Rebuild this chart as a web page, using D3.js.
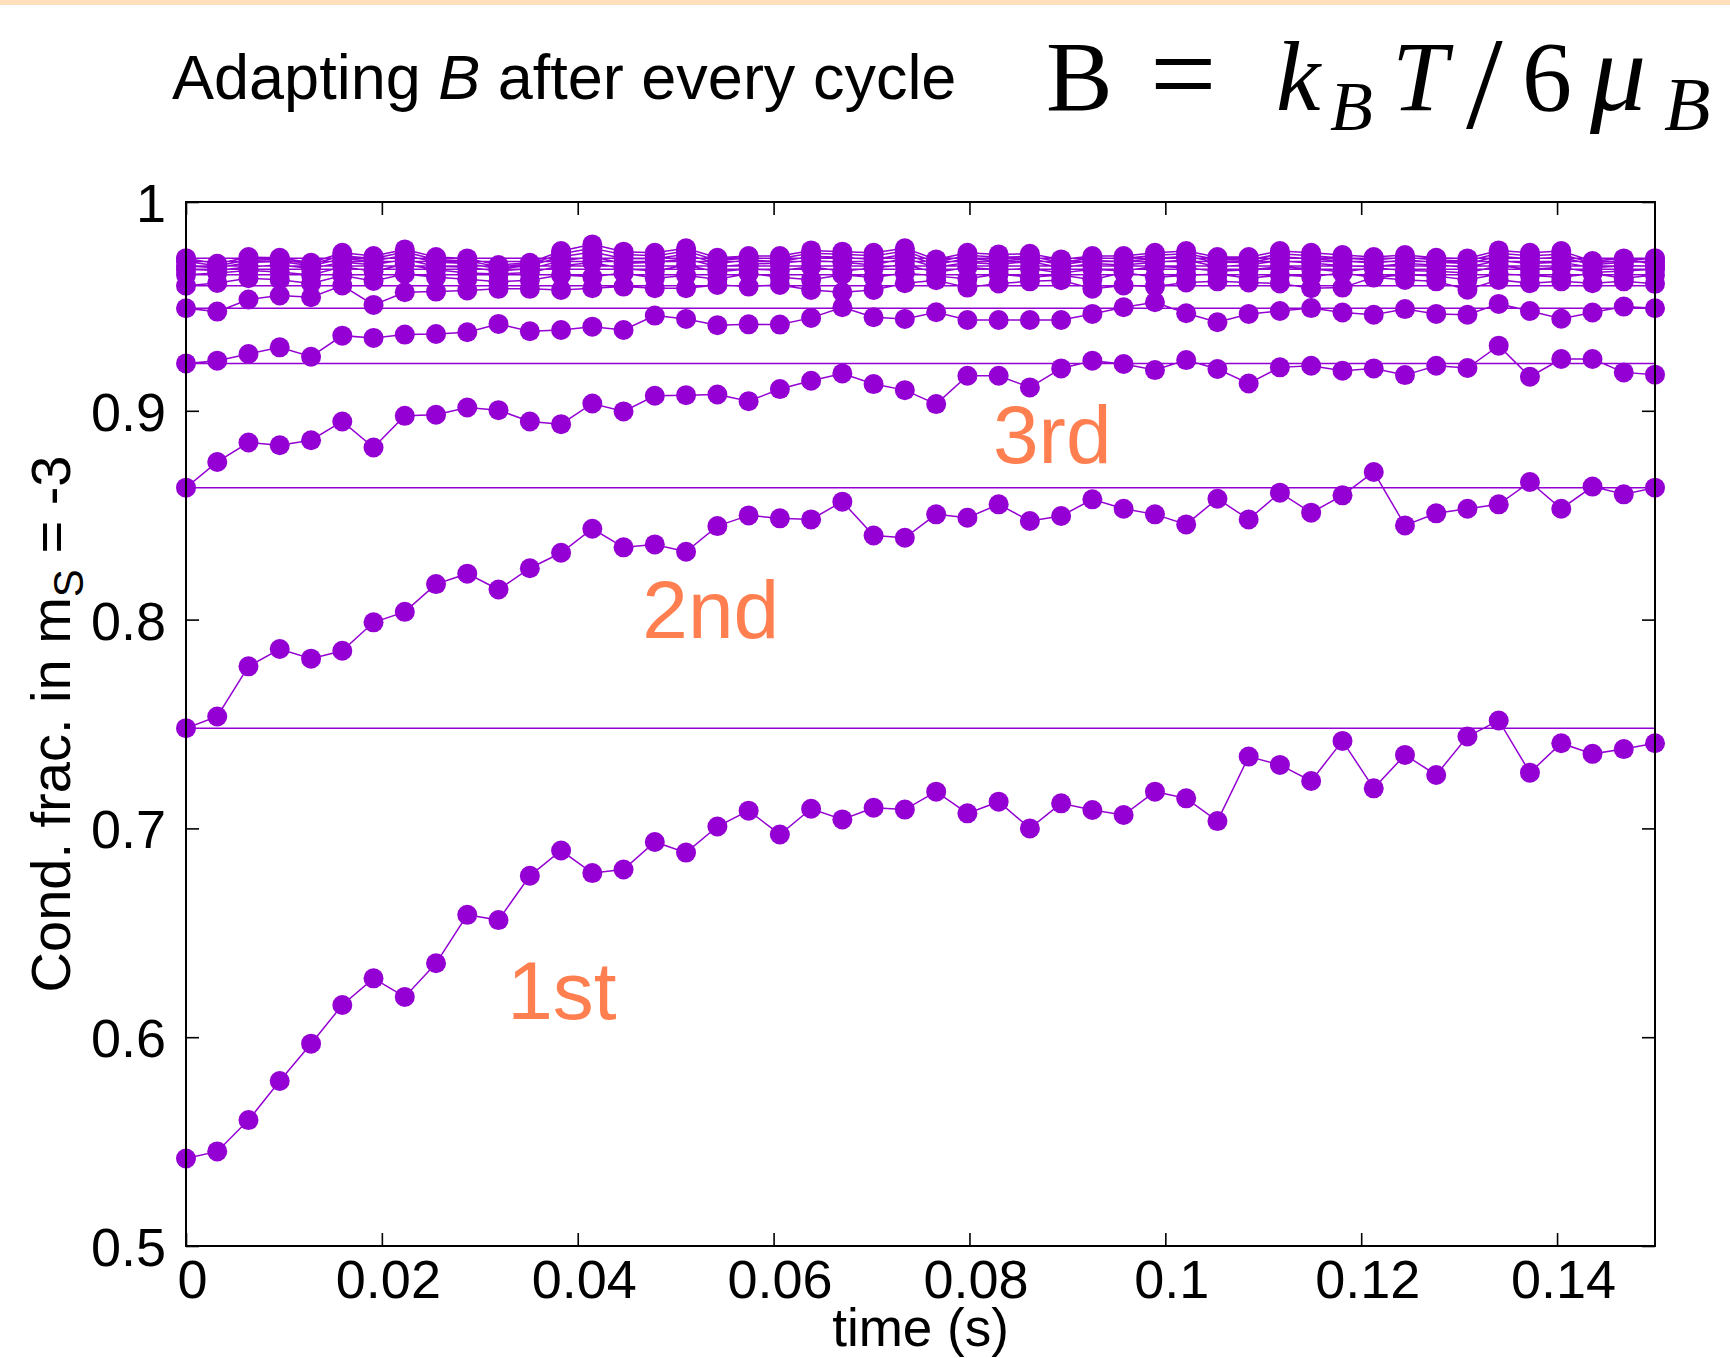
<!DOCTYPE html>
<html>
<head>
<meta charset="utf-8">
<script src="https://cdn.jsdelivr.net/npm/d3@7"></script>
<style>
  body { margin: 0; background: #fff; }
</style>
</head>
<body>
<div id="chart"></div>
<script>
// sample times of one cycle (s)
const times = [0, 0.00319, 0.00638, 0.00957, 0.01277, 0.01596, 0.01915, 0.02234, 0.02553, 0.02872,
  0.03191, 0.03511, 0.03830, 0.04149, 0.04468, 0.04787, 0.05106, 0.05426, 0.05745, 0.06064,
  0.06383, 0.06702, 0.07021, 0.07340, 0.07660, 0.07979, 0.08298, 0.08617, 0.08936, 0.09255,
  0.09574, 0.09894, 0.10213, 0.10532, 0.10851, 0.11170, 0.11489, 0.11809, 0.12128, 0.12447,
  0.12766, 0.13085, 0.13404, 0.13723, 0.14043, 0.14362, 0.14681, 0.15000];
// time of the end-of-cycle state (just past the right edge)
const cycleEnd = 0.15319;

// condensate fraction in m_S = -3, one array per cycle
const cycle1 = [0.5419, 0.5453, 0.5603, 0.5790, 0.5969, 0.6154, 0.6282, 0.6193, 0.6354, 0.6586,
  0.6561, 0.6773, 0.6894, 0.6786, 0.6803, 0.6935, 0.6884, 0.7009, 0.7085, 0.6971,
  0.7094, 0.7043, 0.7099, 0.7090, 0.7176, 0.7072, 0.7128, 0.7000, 0.7120, 0.7088,
  0.7064, 0.7176, 0.7144, 0.7035, 0.7344, 0.7304, 0.7227, 0.7419, 0.7192, 0.7352,
  0.7256, 0.7440, 0.7517, 0.7267, 0.7408, 0.7357, 0.7380, 0.7408];
const cycle2 = [0.7480, 0.7536, 0.7776, 0.7859, 0.7813, 0.7851, 0.7987, 0.8037, 0.8170, 0.8220,
  0.8144, 0.8246, 0.8320, 0.8435, 0.8346, 0.8360, 0.8325, 0.8448, 0.8499, 0.8485,
  0.8480, 0.8565, 0.8403, 0.8392, 0.8504, 0.8488, 0.8552, 0.8472, 0.8496, 0.8576,
  0.8531, 0.8504, 0.8456, 0.8579, 0.8480, 0.8608, 0.8512, 0.8595, 0.8707, 0.8451,
  0.8509, 0.8531, 0.8552, 0.8659, 0.8531, 0.8637, 0.8600, 0.8632];
const cycle3 = [0.8632, 0.8755, 0.8848, 0.8835, 0.8859, 0.8949, 0.8824, 0.8976, 0.8981, 0.9016,
  0.9003, 0.8949, 0.8936, 0.9035, 0.8997, 0.9072, 0.9075, 0.9078, 0.9046, 0.9104,
  0.9144, 0.9179, 0.9128, 0.9099, 0.9032, 0.9168, 0.9168, 0.9112, 0.9203, 0.9240,
  0.9224, 0.9195, 0.9243, 0.9200, 0.9131, 0.9208, 0.9216, 0.9192, 0.9203, 0.9171,
  0.9216, 0.9205, 0.9312, 0.9163, 0.9248, 0.9248, 0.9184, 0.9173];
const cycle4 = [0.9227, 0.9240, 0.9272, 0.9304, 0.9259, 0.9360, 0.9349, 0.9365, 0.9368, 0.9376,
  0.9416, 0.9381, 0.9387, 0.9403, 0.9387, 0.9456, 0.9440, 0.9410, 0.9414, 0.9413,
  0.9445, 0.9496, 0.9448, 0.9440, 0.9472, 0.9435, 0.9435, 0.9435, 0.9435, 0.9464,
  0.9496, 0.9520, 0.9467, 0.9424, 0.9464, 0.9478, 0.9492, 0.9471, 0.9460, 0.9487,
  0.9464, 0.9460, 0.9512, 0.9478, 0.9441, 0.9471, 0.9499, 0.9491];
const cycle5 = [0.9491, 0.9475, 0.9533, 0.9552, 0.9544, 0.9600, 0.9507, 0.9568, 0.9571, 0.9576,
  0.9584, 0.9584, 0.9579, 0.9587, 0.9595, 0.9587, 0.9587, 0.9603, 0.9595, 0.9603,
  0.9579, 0.9568, 0.9579, 0.9611, 0.9625, 0.9590, 0.9610, 0.9620, 0.9625, 0.9585,
  0.9600, 0.9595, 0.9615, 0.9620, 0.9615, 0.9610, 0.9587, 0.9590, 0.9640, 0.9627,
  0.9620, 0.9580, 0.9627, 0.9611, 0.9620, 0.9611, 0.9620, 0.9608];
const cycle6 = [0.9599, 0.9612, 0.9635, 0.9628, 0.9610, 0.9648, 0.9622, 0.9655, 0.9640, 0.9630,
  0.9618, 0.9625, 0.9650, 0.9642, 0.9660, 0.9635, 0.9648, 0.9630, 0.9658, 0.9640,
  0.9628, 0.9652, 0.9638, 0.9660, 0.9645, 0.9632, 0.9655, 0.9640, 0.9650, 0.9628,
  0.9662, 0.9640, 0.9648, 0.9655, 0.9635, 0.9650, 0.9642, 0.9660, 0.9638, 0.9652,
  0.9645, 0.9628, 0.9655, 0.9648, 0.9640, 0.9658, 0.9635, 0.9650];
const cycle7 = [0.9652, 0.9660, 0.9672, 0.9665, 0.9650, 0.9690, 0.9668, 0.9702, 0.9675, 0.9660,
  0.9655, 0.9662, 0.9695, 0.9710, 0.9680, 0.9670, 0.9698, 0.9665, 0.9680, 0.9672,
  0.9690, 0.9668, 0.9685, 0.9700, 0.9662, 0.9688, 0.9675, 0.9682, 0.9660, 0.9678,
  0.9670, 0.9692, 0.9685, 0.9668, 0.9675, 0.9690, 0.9680, 0.9665, 0.9685, 0.9672,
  0.9668, 0.9660, 0.9695, 0.9678, 0.9688, 0.9662, 0.9670, 0.9678];
const cycle8 = [0.9678, 0.9672, 0.9690, 0.9698, 0.9682, 0.9712, 0.9700, 0.9725, 0.9692, 0.9688,
  0.9670, 0.9680, 0.9718, 0.9738, 0.9705, 0.9712, 0.9728, 0.9690, 0.9702, 0.9708,
  0.9720, 0.9712, 0.9698, 0.9730, 0.9688, 0.9710, 0.9702, 0.9715, 0.9685, 0.9705,
  0.9698, 0.9712, 0.9722, 0.9690, 0.9700, 0.9718, 0.9708, 0.9695, 0.9690, 0.9705,
  0.9698, 0.9688, 0.9720, 0.9705, 0.9712, 0.9685, 0.9695, 0.9694];
const cycle9 = [0.9694, 0.9685, 0.9710, 0.9715, 0.9695, 0.9728, 0.9718, 0.9745, 0.9712, 0.9705,
  0.9680, 0.9695, 0.9738, 0.9760, 0.9730, 0.9728, 0.9750, 0.9705, 0.9722, 0.9715,
  0.9740, 0.9735, 0.9725, 0.9750, 0.9700, 0.9730, 0.9718, 0.9728, 0.9700, 0.9720,
  0.9715, 0.9730, 0.9740, 0.9712, 0.9710, 0.9738, 0.9728, 0.9718, 0.9708, 0.9722,
  0.9712, 0.9705, 0.9740, 0.9728, 0.9735, 0.9700, 0.9712, 0.9715];
const cycle10 = [0.9715, 0.9695, 0.9722, 0.9725, 0.9702, 0.9742, 0.9730, 0.9760, 0.9725, 0.9718,
  0.9690, 0.9702, 0.9752, 0.9778, 0.9748, 0.9742, 0.9765, 0.9720, 0.9732, 0.9730,
  0.9755, 0.9750, 0.9742, 0.9765, 0.9712, 0.9745, 0.9735, 0.9740, 0.9712, 0.9732,
  0.9730, 0.9745, 0.9752, 0.9725, 0.9722, 0.9752, 0.9742, 0.9732, 0.9722, 0.9735,
  0.9722, 0.9718, 0.9755, 0.9742, 0.9750, 0.9708, 0.9720, 0.9731];
const cycle11 = [0.9731, 0.9704, 0.9736, 0.9733, 0.9709, 0.9757, 0.9741, 0.9773, 0.9736, 0.9730,
  0.9698, 0.9709, 0.9765, 0.9797, 0.9762, 0.9757, 0.9778, 0.9733, 0.9741, 0.9741,
  0.9768, 0.9762, 0.9757, 0.9778, 0.9725, 0.9757, 0.9749, 0.9752, 0.9725, 0.9741,
  0.9741, 0.9757, 0.9765, 0.9736, 0.9736, 0.9765, 0.9757, 0.9746, 0.9736, 0.9746,
  0.9733, 0.9730, 0.9768, 0.9757, 0.9765, 0.9717, 0.9730, 0.9698];

const cycles = [cycle1, cycle2, cycle3, cycle4, cycle5, cycle6, cycle7, cycle8, cycle9, cycle10, cycle11];

// axes
const xTicks = [0, 0.02, 0.04, 0.06, 0.08, 0.1, 0.12, 0.14];
const xTickLabels = ["0", "0.02", "0.04", "0.06", "0.08", "0.1", "0.12", "0.14"];
const yTicks = [0.5, 0.6, 0.7, 0.8, 0.9, 1];
const yTickLabels = ["0.5", "0.6", "0.7", "0.8", "0.9", "1"];

// cycle annotations (time, fraction of the text's left baseline)
const cycleLabels = ["1st", "2nd", "3rd"];
const cycleLabelPos = [[0.0328, 0.6085], [0.0466, 0.7912], [0.0824, 0.8750]];

const width = 1730, height = 1358;
const plotLeft = 186, plotRight = 1655, plotTop = 202, plotBottom = 1246;
const purple = "#9400d3";
const font = "'Liberation Sans', Arial, Helvetica, sans-serif";

const x = d3.scaleLinear().domain([0, 0.15]).range([plotLeft, plotRight]);
const y = d3.scaleLinear().domain([0.5, 1]).range([plotBottom, plotTop]);

const svg = d3.select("#chart").append("svg")
    .attr("width", width)
    .attr("height", height)
    .style("display", "block")
    .style("font-family", font);

svg.append("rect").attr("width", width).attr("height", height).attr("fill", "#fff");
svg.append("rect").attr("width", width).attr("height", 5).attr("fill", "#fde0bb");

svg.append("defs").append("clipPath").attr("id", "plot")
  .append("rect")
    .attr("x", plotLeft).attr("y", plotTop)
    .attr("width", plotRight - plotLeft).attr("height", plotBottom - plotTop);

// one continuous trace: each cycle, then its end state just off the right edge
const trace = [];
cycles.forEach((c, k) => {
  c.forEach((v, i) => trace.push([times[i], v]));
  if (k < cycles.length - 1) trace.push([cycleEnd, cycles[k + 1][0]]);
});

svg.append("path")
    .attr("clip-path", "url(#plot)")
    .attr("fill", "none")
    .attr("stroke", purple)
    .attr("stroke-width", 1.5)
    .attr("d", d3.line().x(d => x(d[0])).y(d => y(d[1]))(trace));

const dots = [];
cycles.forEach(c => c.forEach((v, i) => dots.push([times[i], v])));

svg.append("g")
    .attr("fill", purple)
  .selectAll("circle")
  .data(dots)
  .join("circle")
    .attr("cx", d => x(d[0]))
    .attr("cy", d => y(d[1]))
    .attr("r", 10);

// tick marks on all four sides, pointing inwards
const tick = 13;
function styleAxis(g) {
  g.select(".domain").remove();
  g.selectAll(".tick line").attr("stroke", "#000").attr("stroke-width", 1.6);
  g.selectAll("text").attr("fill", "#000").style("font-family", font).style("font-size", "54px");
}

svg.append("g")
    .attr("transform", `translate(0,${plotBottom})`)
    .call(d3.axisBottom(x).tickValues(xTicks).tickFormat((d, i) => xTickLabels[i]).tickSize(-tick).tickPadding(0))
    .call(styleAxis)
    .call(g => g.selectAll("text").attr("dy", null).attr("y", 52).attr("x", 6));

svg.append("g")
    .attr("transform", `translate(0,${plotTop})`)
    .call(d3.axisTop(x).tickValues(xTicks).tickFormat("").tickSize(-tick))
    .call(styleAxis);

svg.append("g")
    .attr("transform", `translate(${plotLeft},0)`)
    .call(d3.axisLeft(y).tickValues(yTicks).tickFormat((d, i) => yTickLabels[i]).tickSize(-tick).tickPadding(20))
    .call(styleAxis)
    .call(g => g.selectAll("text").attr("dy", "0.36em"));

svg.append("g")
    .attr("transform", `translate(${plotRight},0)`)
    .call(d3.axisRight(y).tickValues(yTicks).tickFormat("").tickSize(-tick))
    .call(styleAxis);

svg.append("rect")
    .attr("x", plotLeft).attr("y", plotTop)
    .attr("width", plotRight - plotLeft).attr("height", plotBottom - plotTop)
    .attr("fill", "none")
    .attr("stroke", "#000")
    .attr("stroke-width", 2);

// axis titles
svg.append("text")
    .attr("x", (plotLeft + plotRight) / 2)
    .attr("y", 1346)
    .attr("text-anchor", "middle")
    .style("font-size", "53px")
    .text("time (s)");

const ylab = svg.append("text")
    .attr("transform", `translate(70,${(plotTop + plotBottom) / 2}) rotate(-90)`)
    .attr("text-anchor", "middle")
    .style("font-size", "56px");
ylab.append("tspan").text("Cond. frac. in m");
ylab.append("tspan").attr("dy", 13).style("font-size", "42px").text("S");
ylab.append("tspan").attr("dy", -13).text(" = -3");

// cycle annotations
svg.append("g")
    .attr("fill", "#ff7f50")
    .style("font-size", "82px")
  .selectAll("text")
  .data(cycleLabels)
  .join("text")
    .attr("x", (d, i) => x(cycleLabelPos[i][0]))
    .attr("y", (d, i) => y(cycleLabelPos[i][1]))
    .text(d => d);

// header
const title = svg.append("text")
    .attr("x", 172)
    .attr("y", 99)
    .style("font-size", "63px");
title.append("tspan").text("Adapting ");
title.append("tspan").style("font-style", "italic").text("B");
title.append("tspan").text(" after every cycle");

// formula, laid out glyph group by glyph group
const eq = svg.append("text")
    .attr("y", 110)
    .style("font-family", "'Liberation Serif', 'Times New Roman', serif")
    .style("font-size", "100px");
eq.append("tspan").attr("x", 1046).text("B");
eq.append("tspan").attr("x", 1150).style("font-size", "118px").attr("dy", 4).text("=");
eq.append("tspan").attr("x", 1276).attr("dy", -4).style("font-style", "italic").text("k");
eq.append("tspan").attr("x", 1330).attr("dy", 20).style("font-style", "italic").style("font-size", "70px").text("B");
eq.append("tspan").attr("x", 1392).attr("dy", -20).style("font-style", "italic").text("T");
eq.append("tspan").attr("x", 1466).style("font-size", "132px").attr("dy", 18).text("/");
eq.append("tspan").attr("x", 1522).attr("dy", -18).text("6");
eq.append("tspan").attr("x", 1590).style("font-style", "italic").style("font-size", "112px").text("μ");
eq.append("tspan").attr("x", 1664).attr("dy", 20).style("font-style", "italic").style("font-size", "76px").text("B");
</script>
</body>
</html>
